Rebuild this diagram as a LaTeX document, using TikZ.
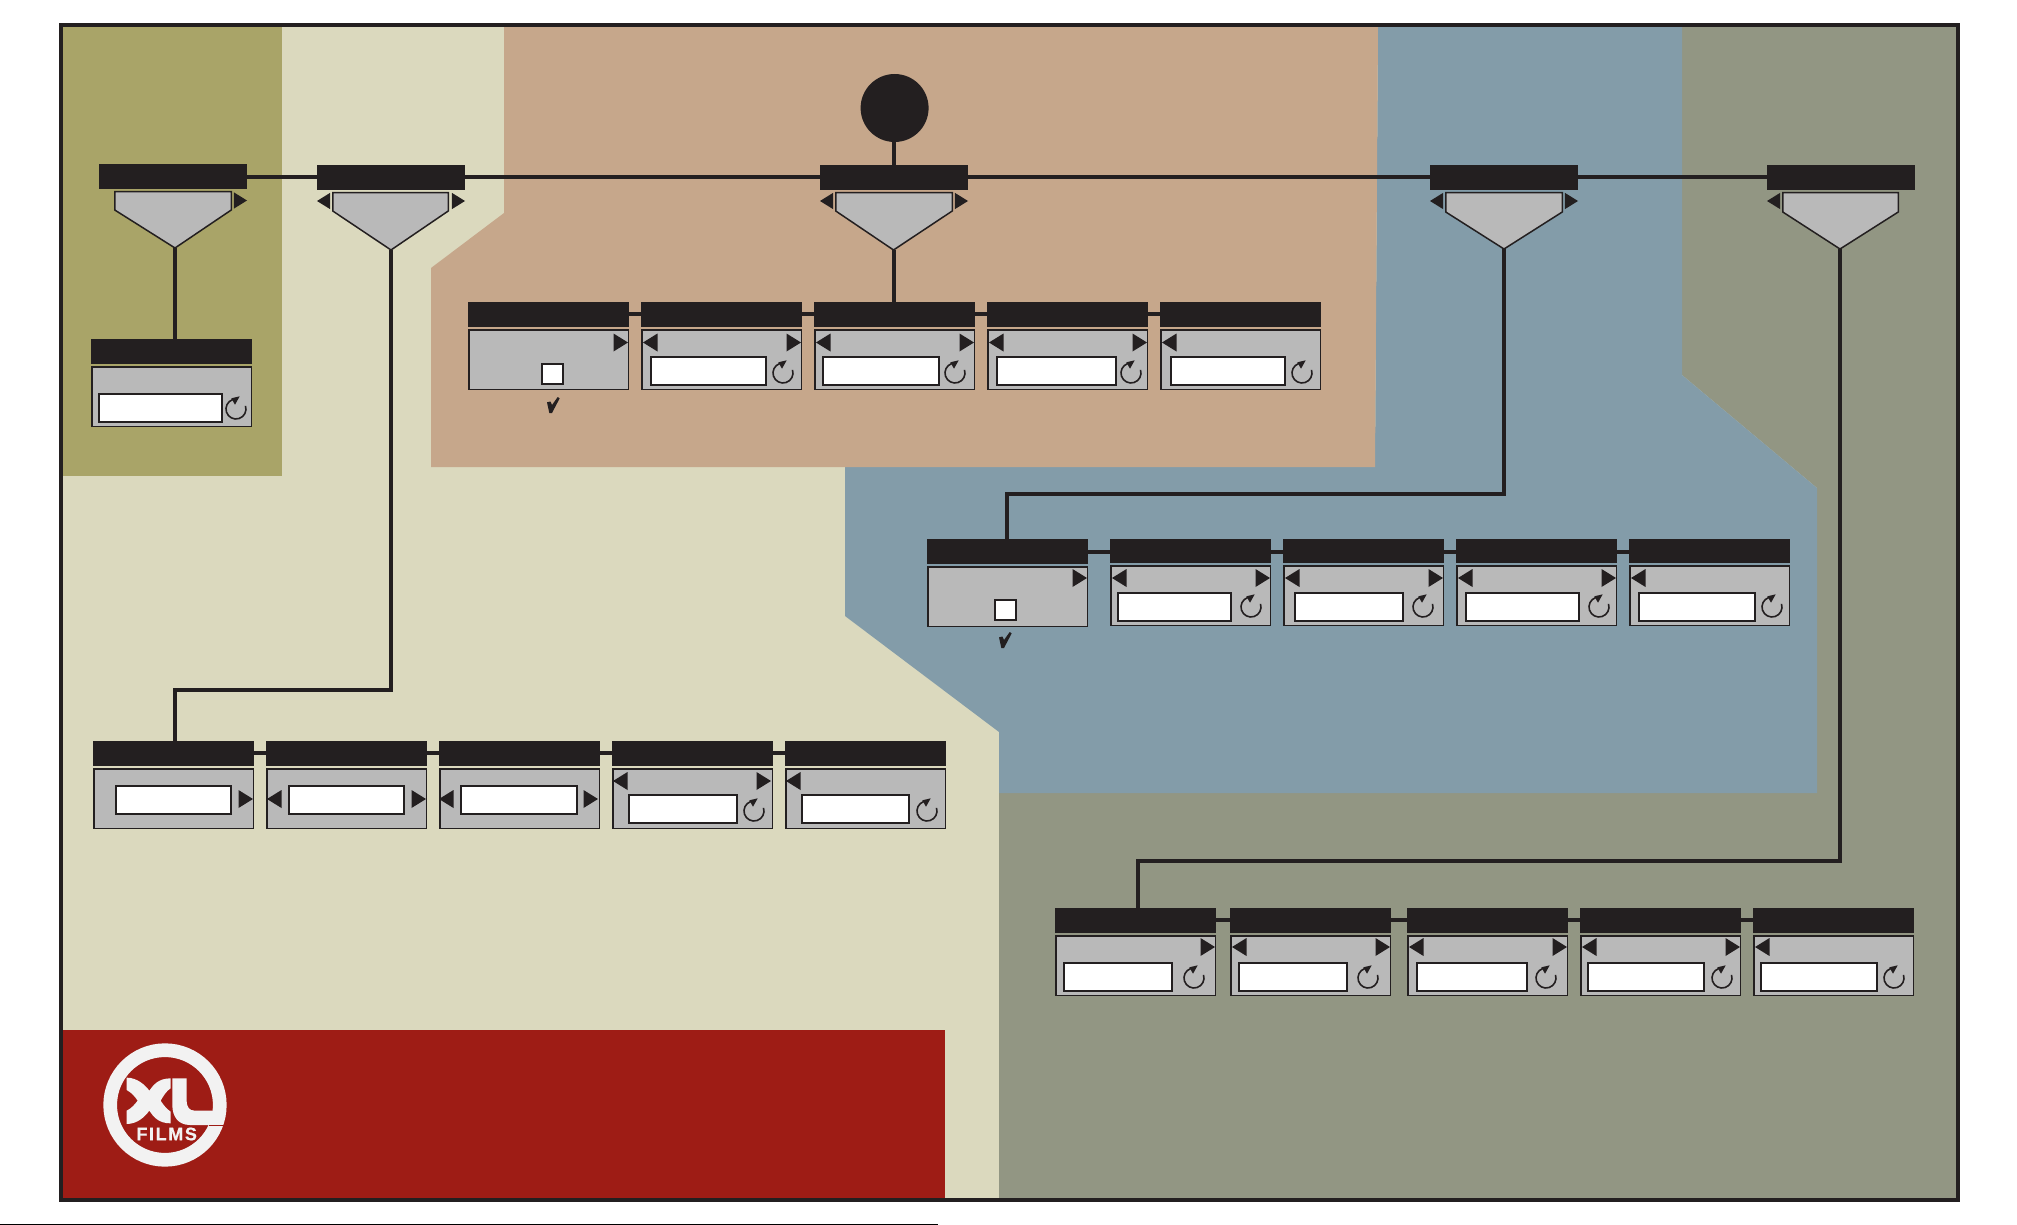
\documentclass[tikz,border=0pt]{standalone}
\usepackage{fontspec}
\newfontfamily\logofont[LetterSpace=9,BoldFeatures={FakeBold=0.8}]{Liberation Sans}
\usetikzlibrary{positioning}
\definecolor{inkblack}{HTML}{231F20}
\definecolor{panelgray}{HTML}{B9B9B9}
\definecolor{olivezone}{HTML}{A9A468}
\definecolor{palezone}{HTML}{DBD9BE}
\definecolor{tanzone}{HTML}{C6A78B}
\definecolor{bluezone}{HTML}{839CA9}
\definecolor{sagezone}{HTML}{929683}
\definecolor{redzone}{HTML}{9E1C15}
\definecolor{logowhite}{HTML}{F2F2F2}
\tikzset{
  wire/.style={inkblack, line width=4pt},
  headbar/.style={fill=inkblack, inner sep=0pt, outer sep=0pt, minimum width=148pt, minimum height=25pt},
  rowbar/.style={fill=inkblack, inner sep=0pt, outer sep=0pt, minimum width=161pt, minimum height=24.5pt},
  funnel/.style={draw=inkblack, fill=panelgray, line width=1.5pt, line join=miter},
  panelbox/.style={draw=inkblack, fill=panelgray, line width=1.5pt},
  entrybox/.style={draw=inkblack, fill=white, line width=2pt},
  pics/tipleft/.style={code={\fill[inkblack] (0,0) -- (14.5,-9) -- (14.5,9) -- cycle;}},
  pics/tipright/.style={code={\fill[inkblack] (0,0) -- (-14.5,-9) -- (-14.5,9) -- cycle;}},
  pics/turnicon/.style={code={
    \draw[inkblack, line width=1.6pt] (9.5,-3.1) arc[start angle=18, end angle=-250, radius=10pt];
    \fill[inkblack] (-4.7,-10.7) -- (3.7,-12.7) -- (-1,-4.3) -- cycle;}},
  pics/tickmark/.style={code={
    \fill[inkblack] (-6,-2.7) -- (-2.5,-3.5) -- (-1,0) -- (4.7,-8) -- (6.7,-6.7) -- (-1,8) -- (-3.7,8) -- cycle;}},
}

\begin{document}
\begin{tikzpicture}[x=1pt, y=-1pt]
    \useasboundingbox (0,0) rectangle (2017,1225);

    % Coloured zones
    \fill[palezone] (61,25) rectangle (1958,1200);
    \fill[sagezone] (1682,25) -- (1958,25) -- (1958,1200) -- (999,1200) -- (999,793) -- (1817,793) -- (1817,488) -- (1682,375) -- cycle;
    \fill[bluezone] (1378,25) -- (1682,25) -- (1682,375) -- (1817,488) -- (1817,793) -- (999,793) -- (999,732) -- (845,616) -- (845,460) -- (1375,460) -- cycle;
    \fill[tanzone] (504,25) -- (1378,25) -- (1375,467) -- (431,467) -- (431,268) -- (504,213) -- cycle;
    \fill[olivezone] (61,25) rectangle (282,476);
    \fill[redzone] (61,1030) rectangle (945,1200);

    % Bend points of the long wires
    \coordinate (bendd) at (175,690);
    \coordinate (bendc) at (1007,494);
    \coordinate (bende) at (1138,861);

    % Funnel tips
    \coordinate (tip1) at (175,248);
    \coordinate (tip2) at (391,250);
    \coordinate (tip3) at (893.5,250);
    \coordinate (tip4) at (1504,249);
    \coordinate (tip5) at (1840,249);

    % Top row
    \node[headbar, anchor=north west] (top1) at (99,164) {};
    \node[headbar, anchor=north west] (top2) at (317,165) {};
    \node[headbar, anchor=north west] (top3) at (820,165) {};
    \node[headbar, anchor=north west] (top4) at (1430,165) {};
    \node[headbar, anchor=north west] (top5) at (1767,165) {};
    \node[circle, fill=inkblack, inner sep=0pt, outer sep=0pt, minimum size=68pt] (hub) at (894.6,108) {};

    % Row under the first funnel
    \node[rowbar, anchor=north west] (a1) at (91,339) {};
    \draw[panelbox] (91.75,366.75) rectangle (251.25,426.25);
    \draw[entrybox] (99,394) rectangle (222,422);
    \pic at (236,409) {turnicon};

    % Row under the third funnel
    \node[rowbar, anchor=north west] (b1) at (468,302) {};
    \node[rowbar, anchor=north west] (b2) at (641,302) {};
    \node[rowbar, anchor=north west] (b3) at (814,302) {};
    \node[rowbar, anchor=north west] (b4) at (987,302) {};
    \node[rowbar, anchor=north west] (b5) at (1160,302) {};
    \draw[panelbox] (468.75,329.75) rectangle (628.25,389.25);
    \draw[panelbox] (641.75,329.75) rectangle (801.25,389.25);
    \draw[panelbox] (814.75,329.75) rectangle (974.25,389.25);
    \draw[panelbox] (987.75,329.75) rectangle (1147.25,389.25);
    \draw[panelbox] (1160.75,329.75) rectangle (1320.25,389.25);
    \draw[entrybox] (542,364) rectangle (563,384);
    \draw[entrybox] (651,357) rectangle (766,385);
    \draw[entrybox] (823,357) rectangle (939,385);
    \draw[entrybox] (997,357) rectangle (1116,385);
    \draw[entrybox] (1171,357) rectangle (1285,385);
    \pic at (628,342.5) {tipright};
    \pic at (643,342.5) {tipleft};
    \pic at (801,342.5) {tipright};
    \pic at (816,342.5) {tipleft};
    \pic at (974,342.5) {tipright};
    \pic at (989,342.5) {tipleft};
    \pic at (1147,342.5) {tipright};
    \pic at (1162,342.5) {tipleft};
    \pic at (783,373) {turnicon};
    \pic at (955,373) {turnicon};
    \pic at (1131,373) {turnicon};
    \pic at (1302,373) {turnicon};
    \pic at (553,405) {tickmark};

    % Row under the fourth funnel
    \node[rowbar, anchor=north west] (c1) at (927,539) {};
    \node[rowbar, anchor=north west] (c2) at (1110,538.5) {};
    \node[rowbar, anchor=north west] (c3) at (1283,538.5) {};
    \node[rowbar, anchor=north west] (c4) at (1456,538.5) {};
    \node[rowbar, anchor=north west] (c5) at (1629,538.5) {};
    \draw[panelbox] (927.75,566.75) rectangle (1087.25,626.25);
    \draw[panelbox] (1110.75,565.75) rectangle (1270.25,625.25);
    \draw[panelbox] (1283.75,565.75) rectangle (1443.25,625.25);
    \draw[panelbox] (1456.75,565.75) rectangle (1616.25,625.25);
    \draw[panelbox] (1629.75,565.75) rectangle (1789.25,625.25);
    \draw[entrybox] (995,600) rectangle (1016,620);
    \draw[entrybox] (1118,593) rectangle (1231,621);
    \draw[entrybox] (1295,593) rectangle (1403,621);
    \draw[entrybox] (1466,593) rectangle (1579,621);
    \draw[entrybox] (1639,593) rectangle (1755,621);
    \pic at (1087,578) {tipright};
    \pic at (1112,578) {tipleft};
    \pic at (1270,578) {tipright};
    \pic at (1285,578) {tipleft};
    \pic at (1443,578) {tipright};
    \pic at (1458,578) {tipleft};
    \pic at (1616,578) {tipright};
    \pic at (1631,578) {tipleft};
    \pic at (1251,607) {turnicon};
    \pic at (1423,607) {turnicon};
    \pic at (1599,607) {turnicon};
    \pic at (1772,607) {turnicon};
    \pic at (1005,640) {tickmark};

    % Row under the second funnel
    \node[rowbar, anchor=north west] (d1) at (93,741) {};
    \node[rowbar, anchor=north west] (d2) at (266,741) {};
    \node[rowbar, anchor=north west] (d3) at (439,741) {};
    \node[rowbar, anchor=north west] (d4) at (612,741) {};
    \node[rowbar, anchor=north west] (d5) at (785,741) {};
    \draw[panelbox] (93.75,768.75) rectangle (253.25,828.25);
    \draw[panelbox] (266.75,768.75) rectangle (426.25,828.25);
    \draw[panelbox] (439.75,768.75) rectangle (599.25,828.25);
    \draw[panelbox] (612.75,768.75) rectangle (772.25,828.25);
    \draw[panelbox] (785.75,768.75) rectangle (945.25,828.25);
    \draw[entrybox] (116,786) rectangle (231,814);
    \draw[entrybox] (289,786) rectangle (404,814);
    \draw[entrybox] (461,786) rectangle (577,814);
    \draw[entrybox] (629,795) rectangle (737,823);
    \draw[entrybox] (802,795) rectangle (909,823);
    \pic at (253,799) {tipright};
    \pic at (267,799) {tipleft};
    \pic at (426,799) {tipright};
    \pic at (439,799) {tipleft};
    \pic at (598,799) {tipright};
    \pic at (613,781) {tipleft};
    \pic at (771,781) {tipright};
    \pic at (786,781) {tipleft};
    \pic at (754,811) {turnicon};
    \pic at (927,811) {turnicon};

    % Row under the fifth funnel
    \node[rowbar, anchor=north west] (e1) at (1055,908) {};
    \node[rowbar, anchor=north west] (e2) at (1230,908) {};
    \node[rowbar, anchor=north west] (e3) at (1407,908) {};
    \node[rowbar, anchor=north west] (e4) at (1580,908) {};
    \node[rowbar, anchor=north west] (e5) at (1753,908) {};
    \draw[panelbox] (1055.75,935.75) rectangle (1215.25,995.25);
    \draw[panelbox] (1230.75,935.75) rectangle (1390.25,995.25);
    \draw[panelbox] (1407.75,935.75) rectangle (1567.25,995.25);
    \draw[panelbox] (1580.75,935.75) rectangle (1740.25,995.25);
    \draw[panelbox] (1753.75,935.75) rectangle (1913.25,995.25);
    \draw[entrybox] (1064,963) rectangle (1172,991);
    \draw[entrybox] (1239,963) rectangle (1347,991);
    \draw[entrybox] (1417,963) rectangle (1527,991);
    \draw[entrybox] (1588,963) rectangle (1704,991);
    \draw[entrybox] (1761,963) rectangle (1877,991);
    \pic at (1215,947) {tipright};
    \pic at (1232,947) {tipleft};
    \pic at (1390,947) {tipright};
    \pic at (1409,947) {tipleft};
    \pic at (1567,947) {tipright};
    \pic at (1582,947) {tipleft};
    \pic at (1740,947) {tipright};
    \pic at (1755,947) {tipleft};
    \pic at (1194,978) {turnicon};
    \pic at (1368,978) {turnicon};
    \pic at (1546,978) {turnicon};
    \pic at (1722,978) {turnicon};
    \pic at (1894,978) {turnicon};

    % Funnels
    \draw[funnel] (114.75,191.75) -- (231.25,191.75) -- (231.25,210) -- (tip1) -- (114.75,210) -- cycle;
    \draw[funnel] (332.75,192.75) -- (448.25,192.75) -- (448.25,211) -- (tip2) -- (332.75,211) -- cycle;
    \draw[funnel] (835.75,192.75) -- (952.25,192.75) -- (952.25,211) -- (tip3) -- (835.75,211) -- cycle;
    \draw[funnel] (1445.75,192.75) -- (1562.25,192.75) -- (1562.25,212) -- (tip4) -- (1445.75,212) -- cycle;
    \draw[funnel] (1782.75,192.75) -- (1898.25,192.75) -- (1898.25,212) -- (tip5) -- (1782.75,212) -- cycle;
    \pic[scale=.9] at (247,200.5) {tipright};
    \pic[scale=.9] at (317,201) {tipleft};
    \pic[scale=.9] at (465,201) {tipright};
    \pic[scale=.9] at (820,201) {tipleft};
    \pic[scale=.9] at (968,201) {tipright};
    \pic[scale=.9] at (1430,201) {tipleft};
    \pic[scale=.9] at (1578,201) {tipright};
    \pic[scale=.9] at (1767,201) {tipleft};

    % Wires of the top row
    \draw[wire] (top2.west -| top1.east) -- (top2.west);
    \draw[wire] (top2.east) -- (top3.west);
    \draw[wire] (top3.east) -- (top4.west);
    \draw[wire] (top4.east) -- (top5.west);
    \draw[wire] (hub.south -| tip3) -- (top3.north -| tip3);

    % Wires down from the funnels
    \draw[wire] (tip1) -- (a1.north -| tip1);
    \draw[wire] (tip3) -- (b3.north -| tip3);
    \draw[wire, line join=miter] (tip2) |- (bendd) -- (d1.north -| bendd);
    \draw[wire, line join=miter] (tip4) |- (bendc) -- (c1.north -| bendc);
    \draw[wire, line join=miter] (tip5) |- (bende) -- (e1.north -| bende);

    % Wires along the rows
    \draw[wire] (b1.east) -- (b2.west);
    \draw[wire] (b2.east) -- (b3.west);
    \draw[wire] (b3.east) -- (b4.west);
    \draw[wire] (b4.east) -- (b5.west);
    \draw[wire] ([yshift=-1.2pt]c2.west -| c1.east) -- ([yshift=-1.2pt]c2.west);
    \draw[wire] ([yshift=-1.2pt]c2.east) -- ([yshift=-1.2pt]c3.west);
    \draw[wire] ([yshift=-1.2pt]c3.east) -- ([yshift=-1.2pt]c4.west);
    \draw[wire] ([yshift=-1.2pt]c4.east) -- ([yshift=-1.2pt]c5.west);
    \draw[wire] (d1.east) -- (d2.west);
    \draw[wire] (d2.east) -- (d3.west);
    \draw[wire] (d3.east) -- (d4.west);
    \draw[wire] (d4.east) -- (d5.west);
    \draw[wire] (e1.east) -- (e2.west);
    \draw[wire] (e2.east) -- (e3.west);
    \draw[wire] (e3.east) -- (e4.west);
    \draw[wire] (e4.east) -- (e5.west);

    % Logo
    \begin{scope}[shift={(50,1020)}, x=.3333pt, y=-.3333pt]
      \draw[logowhite, line width=13.7pt] (345,255) circle[radius=54.8pt];
      \fill[logowhite] (230,173) .. controls (262,173) and (285,195) .. (298,212)
        .. controls (310,195) and (325,175) .. (362,175) -- (362,205)
        .. controls (350,212) and (340,228) .. (332,242)
        .. controls (342,258) and (352,268) .. (362,275) -- (362,310)
        .. controls (325,310) and (310,290) .. (298,272)
        .. controls (285,290) and (262,312) .. (230,312) -- (230,272)
        .. controls (245,265) and (255,252) .. (263,242)
        .. controls (255,230) and (245,218) .. (230,210) -- cycle;
      \fill[logowhite] (367,175) -- (410,175) -- (410,240)
        .. controls (410,262) and (418,272) .. (435,272) -- (522,272) -- (518,315) -- (420,315)
        .. controls (385,315) and (367,290) .. (367,255) -- cycle;
      \draw[redzone, line width=1pt] (478,317.5) -- (530,317.5);
      \node[text=logowhite, font=\logofont\bfseries\fontsize{18}{18}\selectfont, inner sep=0pt] (logotext) at (350,342) {FILMS};
    \end{scope}

    % Outer frame and the line below it
    \draw[inkblack, line width=4pt] (61,25) rectangle (1958,1200);
    \draw[black, line width=1pt] (0,1224.5) -- (938,1224.5);
\end{tikzpicture}
\end{document}
